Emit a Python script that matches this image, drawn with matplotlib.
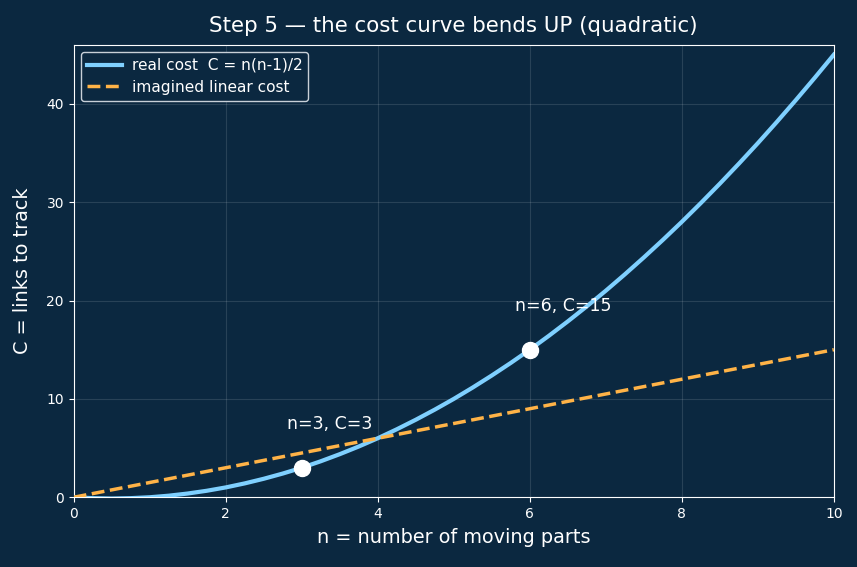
import matplotlib
matplotlib.use("Agg")
import matplotlib.pyplot as plt

# n values and costs
n_vals = [0, 0.25, 0.5, 0.75, 1, 1.25, 1.5, 1.75, 2, 2.25, 2.5, 2.75, 3, 3.25, 3.5, 3.75,
          4, 4.25, 4.5, 4.75, 5, 5.25, 5.5, 5.75, 6, 6.25, 6.5, 6.75, 7, 7.25, 7.5, 7.75,
          8, 8.25, 8.5, 8.75, 9, 9.25, 9.5, 9.75, 10]
real_cost = [0, -0.09, -0.13, -0.09, 0, 0.16, 0.38, 0.66, 1, 1.41, 1.88, 2.41, 3, 3.66, 4.38, 5.16,
             6, 6.91, 7.88, 8.91, 10, 11.16, 12.38, 13.66, 15, 16.41, 17.88, 19.41, 21, 22.66, 24.38, 26.16,
             28, 29.91, 31.88, 33.91, 36, 38.16, 40.38, 42.66, 45]
linear_n = [0, 10]
linear_cost = [0, 15]
marked_n = [3, 6]
marked_c = [3, 15]
marked_labels = ["n=3, C=3", "n=6, C=15"]

bg = "#0b2840"
fg = "white"

fig, ax = plt.subplots(figsize=(8.57, 5.67), dpi=100)
fig.patch.set_facecolor(bg)
ax.set_facecolor(bg)

ax.plot(n_vals, real_cost, color="#7fd0ff", lw=3, label="real cost  C = n(n-1)/2",
        solid_joinstyle="round", zorder=3)
ax.plot(linear_n, linear_cost, color="#ffb347", lw=2.5, ls="--", label="imagined linear cost", zorder=3)
ax.plot(marked_n, marked_c, "o", color="white", markersize=11.5, zorder=4)
for x, y, t in zip(marked_n, marked_c, marked_labels):
    ax.text(x - 0.2, y + 3.5, t, color=fg, fontsize=12.5, ha="left", va="bottom")

ax.set_xlim(0, 10)
ax.set_ylim(0, 46)
ax.grid(True, color="white", alpha=0.12, lw=0.8)
ax.set_axisbelow(True)
for s in ax.spines.values():
    s.set_color(fg)
ax.tick_params(colors=fg, labelsize=10)
ax.set_xlabel("n = number of moving parts", color=fg, fontsize=13.9, labelpad=5)
ax.set_ylabel("C = links to track", color=fg, fontsize=13.9, labelpad=10)
ax.set_title("Step 5 — the cost curve bends UP (quadratic)", color=fg, fontsize=15.4, pad=9)

leg = ax.legend(loc="upper left", fontsize=11.1, facecolor=bg, edgecolor="#c8d0d8", framealpha=1,
                handlelength=2.3, handletextpad=0.6, labelspacing=0.45, borderpad=0.4,
                borderaxespad=0.45)
for t in leg.get_texts():
    t.set_color(fg)

fig.subplots_adjust(left=0.086, right=0.973, top=0.921, bottom=0.123)
fig.savefig("out.png", dpi=100, facecolor=bg)
